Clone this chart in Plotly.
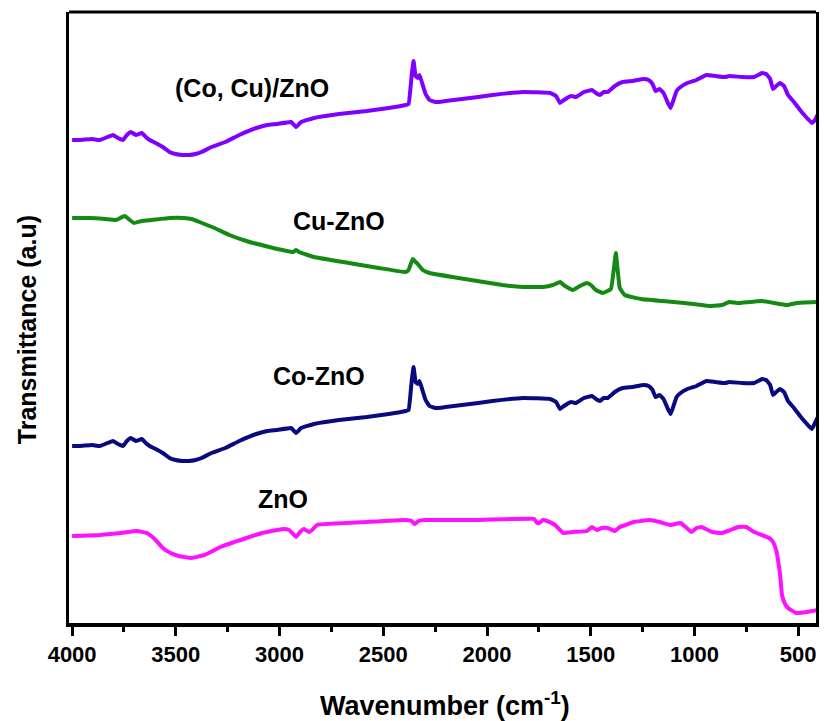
import plotly.graph_objects as go

# ---- data (wavenumber cm^-1, transmittance a.u.) ----
cocu_wn = [4000, 3962, 3904, 3866, 3803, 3779, 3755, 3736, 3717, 3693, 3664, 3645, 3626, 3597, 3563, 3530, 3501, 3467, 3438, 3405, 3376, 3328, 3261, 3194, 3112, 3059, 3011, 2944, 2920, 2896, 2834, 2714, 2579, 2474, 2392, 2378, 2363, 2354, 2344, 2334, 2325, 2310, 2296, 2277, 2248, 2200, 2042, 1974, 1826, 1696, 1667, 1648, 1629, 1595, 1571, 1533, 1494, 1475, 1456, 1437, 1418, 1384, 1346, 1298, 1245, 1221, 1202, 1187, 1168, 1149, 1130, 1115, 1101, 1086, 1067, 1034, 990, 942, 899, 851, 832, 770, 712, 693, 674, 654, 635, 621, 606, 587, 568, 549, 520, 491, 462, 434, 419, 400]
cocu_t = [483, 483, 484, 483, 488, 485, 483, 488, 491, 488, 490, 486, 483, 480, 476, 471, 469, 468, 468, 469, 471, 476, 481, 488, 495, 498, 499, 501, 496, 501, 505, 509, 512, 515, 518, 519, 548, 562, 547, 545, 548, 538, 529, 523, 521, 522, 526, 528, 531, 530, 527, 520, 523, 527, 526, 531, 533, 530, 528, 531, 531, 537, 541, 542, 544, 543, 539, 532, 534, 530, 521, 515, 523, 532, 536, 540, 543, 548, 547, 546, 547, 546, 546, 548, 550, 549, 544, 534, 537, 540, 537, 528, 521, 513, 506, 500, 503, 511]

cu_wn = [4000, 3914, 3842, 3789, 3746, 3722, 3702, 3664, 3616, 3530, 3462, 3424, 3386, 3314, 3242, 3160, 3050, 2934, 2920, 2906, 2834, 2666, 2522, 2392, 2378, 2358, 2344, 2330, 2310, 2277, 2138, 1926, 1826, 1730, 1682, 1648, 1624, 1586, 1552, 1518, 1499, 1475, 1442, 1403, 1389, 1379, 1370, 1360, 1336, 1259, 1154, 1048, 923, 866, 832, 794, 674, 554, 506, 400]
cu_t = [405, 405, 404, 403, 407, 403, 400, 402, 403, 405, 405, 404, 401, 395, 388, 382, 376, 371, 373, 371, 366, 360, 355, 351, 353, 364, 361, 358, 353, 350, 345, 338, 336, 336, 338, 341, 337, 333, 337, 340, 338, 333, 330, 334, 353, 370, 353, 335, 328, 324, 322, 320, 317, 318, 321, 320, 322, 318, 320, 321]

co_wn = [4000, 3962, 3904, 3866, 3803, 3779, 3755, 3736, 3717, 3693, 3664, 3645, 3626, 3597, 3563, 3530, 3501, 3467, 3438, 3405, 3376, 3328, 3261, 3194, 3112, 3059, 3011, 2944, 2920, 2896, 2834, 2714, 2579, 2474, 2392, 2378, 2363, 2354, 2344, 2334, 2325, 2310, 2296, 2277, 2248, 2200, 2042, 1974, 1826, 1696, 1667, 1648, 1629, 1595, 1571, 1533, 1494, 1475, 1456, 1437, 1418, 1384, 1346, 1298, 1245, 1221, 1202, 1187, 1168, 1149, 1130, 1115, 1101, 1086, 1067, 1034, 990, 942, 899, 851, 832, 770, 712, 693, 674, 654, 635, 621, 606, 587, 568, 549, 520, 491, 462, 434, 419, 400]
co_t = [177, 177, 178, 177, 182, 179, 177, 182, 185, 182, 184, 180, 177, 174, 170, 165, 163, 162, 162, 163, 165, 170, 175, 182, 189, 192, 193, 195, 190, 195, 199, 203, 206, 209, 212, 213, 242, 256, 241, 239, 242, 232, 223, 217, 215, 216, 220, 222, 225, 224, 221, 214, 217, 221, 220, 225, 227, 224, 222, 225, 225, 231, 235, 236, 238, 237, 233, 226, 228, 224, 215, 209, 217, 226, 230, 234, 237, 242, 241, 240, 241, 240, 240, 242, 244, 243, 238, 228, 231, 234, 231, 222, 215, 207, 200, 194, 200, 208]

zno_wn = [4000, 3866, 3765, 3688, 3640, 3602, 3563, 3525, 3486, 3424, 3362, 3323, 3285, 3160, 3083, 2982, 2954, 2934, 2920, 2901, 2882, 2858, 2843, 2819, 2579, 2392, 2363, 2349, 2330, 2301, 2075, 1773, 1758, 1749, 1730, 1710, 1672, 1648, 1634, 1586, 1518, 1494, 1470, 1446, 1418, 1384, 1360, 1331, 1293, 1216, 1168, 1115, 1067, 1043, 1014, 990, 966, 914, 866, 827, 789, 750, 712, 640, 621, 606, 597, 587, 578, 563, 549, 510, 458, 410, 400]
zno_t = [87, 88, 90, 92, 90, 84, 75, 70, 67, 65, 68, 72, 76, 85, 90, 94, 93, 89, 86, 91, 94, 91, 93, 98, 101, 103, 102, 99, 102, 103, 103, 104, 100, 100, 103, 102, 98, 93, 90, 91, 92, 96, 93, 95, 95, 92, 96, 98, 101, 103, 101, 98, 100, 96, 91, 95, 96, 91, 90, 93, 96, 96, 91, 85, 81, 73, 63, 48, 28, 19, 15, 10, 11, 13, 16]

labels = ["(Co, Cu)/ZnO", "Cu-ZnO", "Co-ZnO", "ZnO"]
label_x = [3131, 2714, 2810, 2985]
label_y = [535, 402, 247, 124]

x_ticks = [4000, 3500, 3000, 2500, 2000, 1500, 1000, 500]

series = [
    (cocu_wn, cocu_t, "#8000FF", labels[0]),
    (cu_wn, cu_t, "#138A13", labels[1]),
    (co_wn, co_t, "#0A0A80", labels[2]),
    (zno_wn, zno_t, "#FF10FF", labels[3]),
]

FONT = "Arial, Liberation Sans, sans-serif"

fig = go.Figure()
for wn, t, col, name in series:
    fig.add_trace(go.Scatter(x=wn, y=t, mode="lines", name=name,
                             line=dict(color=col, width=4, shape="spline", smoothing=0.3),
                             showlegend=False, hoverinfo="skip"))

for txt, lx, ly in zip(labels, label_x, label_y):
    fig.add_annotation(x=lx, y=ly, text=txt, showarrow=False,
                       font=dict(family=FONT, size=25, color="black", weight="bold"),
                       xanchor="center", yanchor="middle")

fig.add_annotation(xref="paper", yref="paper", x=0.503, y=-0.1326,
                   text="Wavenumber (cm<sup>-1</sup>)", showarrow=False,
                   font=dict(family=FONT, size=27, color="black", weight="bold"),
                   xanchor="center", yanchor="middle")
fig.add_annotation(xref="paper", yref="paper", x=-0.056, y=0.4795,
                   text="Transmittance (a.u)", showarrow=False, textangle=-90,
                   font=dict(family=FONT, size=25, color="black", weight="bold"),
                   xanchor="center", yanchor="middle")

# top frame line
fig.add_shape(type="line", xref="paper", yref="paper", x0=0, x1=1, y0=1, y1=1,
              line=dict(color="black", width=3))

fig.update_layout(
    width=824, height=721,
    margin=dict(l=69, r=5, t=12, b=98),
    paper_bgcolor="white", plot_bgcolor="white",
    xaxis=dict(range=[4015, 414], showgrid=False, zeroline=False,
               showline=True, linecolor="black", linewidth=4,
               ticks="outside", ticklen=9, tickwidth=3, tickcolor="black",
               tickvals=x_ticks, ticktext=[str(v) for v in x_ticks],
               tickfont=dict(family=FONT, size=22, color="black", weight="bold"),
               minor=dict(ticks="outside", ticklen=5, tickwidth=3, tickcolor="black",
                          tickvals=[3750, 3250, 2750, 2250, 1750, 1250, 750])),
    yaxis=dict(range=[0, 611], showgrid=False, zeroline=False,
               showline=True, linecolor="black", linewidth=3, mirror=True,
               ticks="", showticklabels=False),
)

fig.write_html("out.html")
